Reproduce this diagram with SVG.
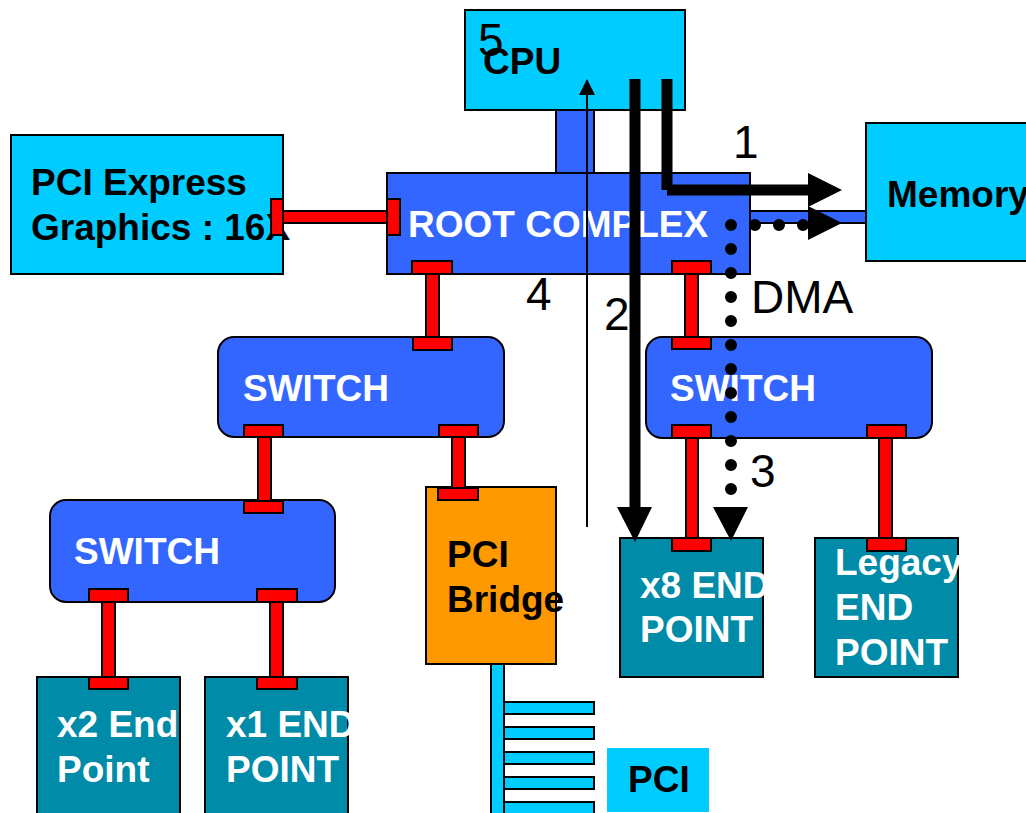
<svg xmlns="http://www.w3.org/2000/svg" width="1026" height="813" viewBox="0 0 1026 813">
<style>
.cy{fill:#00CCFF;stroke:#000;stroke-width:2}
.bl{fill:#3366FF;stroke:#000;stroke-width:2}
.te{fill:#008BA8;stroke:#000;stroke-width:2}
.or{fill:#FF9900;stroke:#000;stroke-width:2}
.rd{fill:#FF0000;stroke:#000;stroke-width:2}
.bt{font-family:"Liberation Sans",Arial,sans-serif;font-weight:bold;font-size:37px}
.w{fill:#fff}
.k{fill:#000}
.num{font-family:"Liberation Sans",Arial,sans-serif;font-size:46px;fill:#000}
.ah{fill:#000}
</style>
<g id="cpu">
<rect class="cy" x="465" y="10" width="220" height="100"/>
<text class="bt k" x="483" y="74">CPU</text>
</g>
<g id="pcie-graphics">
<rect class="cy" x="11" y="135" width="272" height="139"/>
<text class="bt k" x="31" y="195">PCI Express</text>
<text class="bt k" x="31" y="240">Graphics : 16X</text>
</g>
<g id="memory">
<rect class="cy" x="866" y="123" width="175" height="138"/>
<text class="bt k" x="887" y="207">Memory</text>
</g>
<g id="root-complex">
<rect class="bl" x="387" y="173" width="363" height="101"/>
<text class="bt w" x="408" y="237">ROOT COMPLEX</text>
</g>
<g id="switch-mid">
<rect class="bl" x="218" y="337" width="286" height="100" rx="16"/>
<text class="bt w" x="243" y="401">SWITCH</text>
</g>
<g id="switch-right">
<rect class="bl" x="646" y="337" width="286" height="101" rx="16"/>
<text class="bt w" x="670" y="401">SWITCH</text>
</g>
<g id="switch-left">
<rect class="bl" x="50" y="500" width="285" height="102" rx="16"/>
<text class="bt w" x="74" y="564">SWITCH</text>
</g>
<g id="pci-bridge">
<rect class="or" x="426" y="487" width="130" height="177"/>
<text class="bt k" x="447" y="567">PCI</text>
<text class="bt k" x="447" y="612">Bridge</text>
</g>
<g id="x8-endpoint">
<rect class="te" x="620" y="538" width="143" height="139"/>
<text class="bt w" x="640" y="598">x8 END</text>
<text class="bt w" x="640" y="642">POINT</text>
</g>
<g id="legacy-endpoint">
<rect class="te" x="815" y="538" width="143" height="139"/>
<text class="bt w" x="835" y="575">Legacy</text>
<text class="bt w" x="835" y="620">END</text>
<text class="bt w" x="835" y="665">POINT</text>
</g>
<g id="x2-endpoint">
<rect class="te" x="37" y="677" width="143" height="150"/>
<text class="bt w" x="57" y="737">x2 End</text>
<text class="bt w" x="57" y="782">Point</text>
</g>
<g id="x1-endpoint">
<rect class="te" x="205" y="677" width="143" height="150"/>
<text class="bt w" x="226" y="737">x1 END</text>
<text class="bt w" x="226" y="782">POINT</text>
</g>
<g id="pci-bus">
<rect class="cy" x="491" y="664" width="13" height="160"/>
<rect class="cy" x="504" y="702" width="90" height="12"/>
<rect class="cy" x="504" y="727" width="90" height="12"/>
<rect class="cy" x="504" y="752" width="90" height="12"/>
<rect class="cy" x="504" y="777" width="90" height="12"/>
<rect class="cy" x="504" y="802" width="90" height="12"/>
<rect x="607" y="748" width="102" height="64" fill="#00CCFF"/>
<text class="bt k" x="628" y="792">PCI</text>
</g>
<g id="connectors">
<rect class="bl" x="556" y="110" width="38" height="63"/>
<rect class="bl" x="750" y="211" width="116" height="12"/>
<rect class="rd" x="283" y="211" width="104" height="12"/>
<rect class="rd" x="271" y="199" width="12" height="36"/>
<rect class="rd" x="387" y="199" width="13" height="36"/>
<rect class="rd" x="426" y="274" width="13" height="63"/>
<rect class="rd" x="412" y="261" width="40" height="13"/>
<rect class="rd" x="413" y="337" width="39" height="13"/>
<rect class="rd" x="685" y="274" width="13" height="63"/>
<rect class="rd" x="672" y="261" width="39" height="13"/>
<rect class="rd" x="672" y="337" width="39" height="12"/>
<rect class="rd" x="258" y="437" width="13" height="64"/>
<rect class="rd" x="244" y="425" width="39" height="12"/>
<rect class="rd" x="244" y="501" width="39" height="12"/>
<rect class="rd" x="452" y="437" width="13" height="51"/>
<rect class="rd" x="439" y="425" width="39" height="12"/>
<rect class="rd" x="438" y="488" width="40" height="12"/>
<rect class="rd" x="102" y="602" width="13" height="75"/>
<rect class="rd" x="89" y="589" width="39" height="13"/>
<rect class="rd" x="89" y="677" width="39" height="12"/>
<rect class="rd" x="270" y="602" width="13" height="75"/>
<rect class="rd" x="257" y="589" width="40" height="13"/>
<rect class="rd" x="257" y="677" width="40" height="12"/>
<rect class="rd" x="686" y="438" width="12" height="100"/>
<rect class="rd" x="672" y="425" width="39" height="13"/>
<rect class="rd" x="672" y="538" width="39" height="13"/>
<rect class="rd" x="879" y="438" width="13" height="100"/>
<rect class="rd" x="867" y="425" width="39" height="13"/>
<rect class="rd" x="867" y="538" width="39" height="13"/>
</g>
<g id="flows">
<line x1="587" y1="527" x2="587" y2="93" stroke="#000" stroke-width="2"/>
<polygon class="ah" points="587,79 579,95 595,95"/>
<line x1="635" y1="79" x2="635" y2="508" stroke="#000" stroke-width="11"/>
<polygon class="ah" points="617,507 652,507 635,542"/>
<path d="M667 79 V190 M667 190 H809" fill="none" stroke="#000" stroke-width="11"/>
<polygon class="ah" points="808,173 842,190 808,207"/>
<path d="M731 489 V225 H808" fill="none" stroke="#000" stroke-width="12" stroke-linecap="round" stroke-dasharray="0 24"/>
<polygon class="ah" points="808,206 842,223 808,240"/>
<polygon class="ah" points="713,507 748,507 731,541"/>
<text class="num" x="733" y="158">1</text>
<text class="num" x="604" y="330">2</text>
<text class="num" x="750" y="487">3</text>
<text class="num" x="526" y="310">4</text>
<text class="num" x="478" y="56">5</text>
<text class="num" x="751" y="313">DMA</text>
</g>
</svg>
